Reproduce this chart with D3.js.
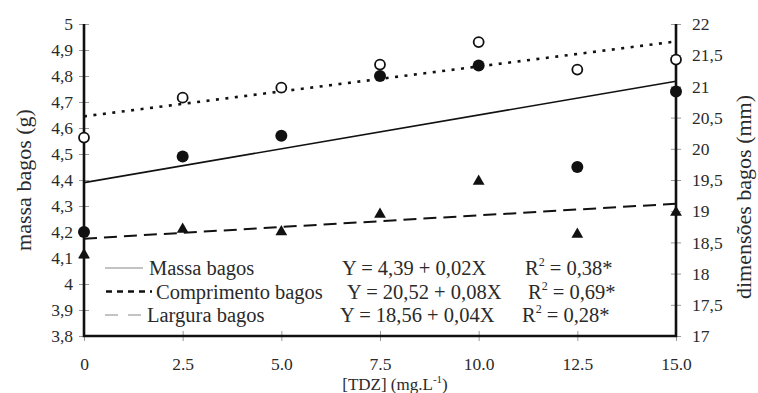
<!DOCTYPE html>
<html>
<head>
<meta charset="utf-8">
<script src="https://cdn.jsdelivr.net/npm/d3@7"></script>
<style>
  body { margin:0; background:#fff; }
  text { font-family: "Liberation Serif", "Times New Roman", serif; fill:#2a2a2a; }
</style>
</head>
<body>
<svg id="svg1" width="758" height="393"></svg>
<script>
// doses de TDZ
var doses = [0, 2.5, 5, 7.5, 10, 12.5, 15];
var massa = [4.20, 4.49, 4.57, 4.80, 4.84, 4.45, 4.74];          // g, eixo esquerdo
var comprimento = [20.18, 20.82, 20.98, 21.35, 21.71, 21.27, 21.43]; // mm, eixo direito
var largura = [18.30, 18.71, 18.67, 18.95, 19.48, 18.63, 18.98];     // mm, eixo direito

// retas ajustadas (inicio e fim)
var fitX = [0, 15];
var massaFit = [4.39, 4.78];
var compFit = [20.52, 21.72];
var largFit = [18.56, 19.12];

var xTicks = [0, 2.5, 5, 7.5, 10, 12.5, 15];
var xTickLabels = ["0", "2.5", "5.0", "7.5", "10.0", "12.5", "15.0"];
var leftTicks = [3.8, 3.9, 4, 4.1, 4.2, 4.3, 4.4, 4.5, 4.6, 4.7, 4.8, 4.9, 5];
var rightTicks = [17, 17.5, 18, 18.5, 19, 19.5, 20, 20.5, 21, 21.5, 22];

var legendNames = ["Massa bagos", "Comprimento bagos", "Largura bagos"];
var legendEq = ["Y = 4,39 + 0,02X", "Y = 20,52 + 0,08X", "Y = 18,56 + 0,04X"];
var legendR2 = ["0,38*", "0,69*", "0,28*"];

var svg = d3.select("#svg1");
var pLeft = 84, pRight = 676, pTop = 24, pBottom = 336;

var x = d3.scaleLinear().domain([0, 15]).range([pLeft, pRight]);
var yL = d3.scaleLinear().domain([3.8, 5]).range([pBottom, pTop]);
var yR = d3.scaleLinear().domain([17, 22]).range([pBottom, pTop]);

var comma = function(d){ return String(d).replace(".", ","); };

// eixos
var gL = svg.append("g").attr("transform", "translate(" + pLeft + ",0)")
  .call(d3.axisLeft(yL).tickValues(leftTicks).tickFormat(comma).tickSize(5).tickPadding(6));
var gR = svg.append("g").attr("transform", "translate(" + pRight + ",0)")
  .call(d3.axisRight(yR).tickValues(rightTicks).tickFormat(comma).tickSize(5).tickPadding(11));
var gB = svg.append("g").attr("transform", "translate(0," + pBottom + ")")
  .call(d3.axisBottom(x).tickValues(xTicks).tickFormat(function(d, i){ return xTickLabels[i]; }).tickSize(5).tickPadding(17));

gL.selectAll(".tick line").attr("x1", 5);
gR.selectAll(".tick line").attr("x1", -5);
gB.selectAll(".tick line").attr("y1", -5);

[gL, gR, gB].forEach(function(g){
  g.select(".domain").remove();
  g.selectAll(".tick line").attr("stroke", "#999").attr("stroke-width", 1);
  g.selectAll(".tick text").style("font-size", "17.5px").attr("fill", "#2a2a2a");
});

// linhas dos eixos (grossas)
svg.append("path")
  .attr("d", "M" + pLeft + "," + pTop + "V" + pBottom + "H" + pRight + "V" + pTop)
  .attr("fill", "none").attr("stroke", "#111").attr("stroke-width", 2.6);

// titulos
svg.append("text")
  .attr("transform", "translate(31," + (pTop + pBottom) / 2 + ") rotate(-90)")
  .attr("text-anchor", "middle").style("font-size", "22px")
  .text("massa bagos (g)");
svg.append("text")
  .attr("transform", "translate(751," + 197 + ") rotate(-90)")
  .attr("text-anchor", "middle").style("font-size", "22px")
  .text("dimensões bagos (mm)");
var xt = svg.append("text").attr("x", 395).attr("y", 390)
  .attr("text-anchor", "middle").style("font-size", "17px");
xt.append("tspan").text("[TDZ] (mg.L");
xt.append("tspan").attr("dy", -7).style("font-size", "11px").text("-1");
xt.append("tspan").attr("dy", 7).text(")");

// retas ajustadas
var line = function(ys, yScale){
  return d3.line().x(function(d, i){ return x(fitX[i]); }).y(function(d){ return yScale(d); })(ys);
};
svg.append("path").attr("d", line(massaFit, yL))
  .attr("fill", "none").attr("stroke", "#111").attr("stroke-width", 1.6);
svg.append("path").attr("d", line(compFit, yR))
  .attr("fill", "none").attr("stroke", "#111").attr("stroke-width", 2.6)
  .attr("stroke-dasharray", "3,6.5");
svg.append("path").attr("d", line(largFit, yR))
  .attr("fill", "none").attr("stroke", "#111").attr("stroke-width", 2)
  .attr("stroke-dasharray", "13,7");

// pontos
svg.selectAll(".tri").data(largura).enter().append("path")
  .attr("class", "tri")
  .attr("d", d3.symbol().type(d3.symbolTriangle).size(60))
  .attr("transform", function(d, i){ return "translate(" + x(doses[i]) + "," + yR(d) + ")"; })
  .attr("fill", "#111");
svg.selectAll(".mas").data(massa).enter().append("circle")
  .attr("class", "mas")
  .attr("cx", function(d, i){ return x(doses[i]); })
  .attr("cy", function(d){ return yL(d); })
  .attr("r", 6).attr("fill", "#111");
svg.selectAll(".comp").data(comprimento).enter().append("circle")
  .attr("class", "comp")
  .attr("cx", function(d, i){ return x(doses[i]); })
  .attr("cy", function(d){ return yR(d); })
  .attr("r", 5).attr("fill", "#fff").attr("stroke", "#111").attr("stroke-width", 1.8);

// legenda
var rowY = [275, 298.5, 322];
var nameX = [149, 156, 147];
var eqX = [342, 347, 340];
var r2X = [525, 528, 522];
var sample = [
  {x1:105, x2:143, w:1, dash:null, c:"#888"},
  {x1:106, x2:152, w:2.6, dash:"6,5", c:"#111"},
  {x1:105, x2:145, w:1, dash:"13,10", c:"#888"}
];
var leg = svg.append("g");
legendNames.forEach(function(n, i){
  var s = sample[i];
  leg.append("line").attr("x1", s.x1).attr("x2", s.x2)
    .attr("y1", rowY[i] - 7).attr("y2", rowY[i] - 7)
    .attr("stroke", s.c).attr("stroke-width", s.w)
    .attr("stroke-dasharray", s.dash);
  leg.append("text").attr("x", nameX[i]).attr("y", rowY[i])
    .style("font-size", "20.5px").text(n);
  leg.append("text").attr("x", eqX[i]).attr("y", rowY[i])
    .style("font-size", "20.5px").text(legendEq[i]);
  var r = leg.append("text").attr("x", r2X[i]).attr("y", rowY[i]).style("font-size", "20.5px");
  r.append("tspan").text("R");
  r.append("tspan").attr("dy", -9).style("font-size", "12px").text("2");
  r.append("tspan").attr("dy", 9).text(" = " + legendR2[i]);
});
</script>
</body>
</html>
